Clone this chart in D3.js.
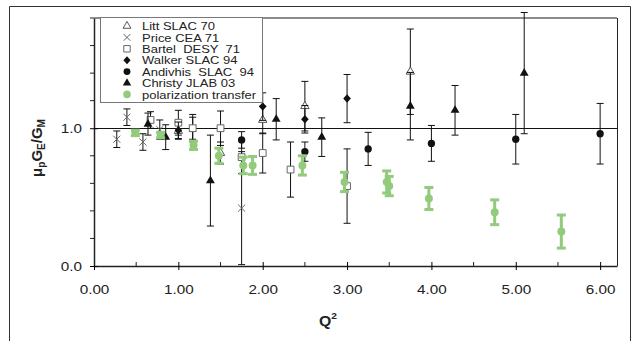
<!DOCTYPE html>
<html>
<head>
<meta charset="utf-8">
<script src="https://cdn.jsdelivr.net/npm/d3@7"></script>
<style>
  body { margin: 0; background: #fff; }
  text { font-family: "Liberation Sans", Arial, sans-serif; fill: #222; }
</style>
</head>
<body>
<div id="chart"></div>
<script>
// data: Q², mu_p GE/GM, error
const littQ2 = [1.0, 1.5, 2.0, 2.5, 3.75];
const littR = [0.98, 0.82, 1.06, 1.16, 1.41];
const littErr = [0.06, 0.08, 0.10, 0.18, 0.31];

const priceQ2 = [0.27, 0.39, 0.58, 0.78, 1.17, 1.75];
const priceR = [0.92, 1.08, 0.90, 0.99, 1.00, 0.42];
const priceErr = [0.06, 0.06, 0.06, 0.07, 0.08, 0.41];

const bartelQ2 = [0.67, 1.0, 1.17, 1.5, 1.75, 2.0, 2.33, 3.0];
const bartelR = [1.06, 1.04, 1.00, 1.00, 0.79, 0.82, 0.70, 0.58];
const bartelErr = [0.06, 0.09, 0.10, 0.125, 0.12, 0.145, 0.20, 0.27];

const walkerQ2 = [1.0, 2.0, 2.5, 3.0];
const walkerR = [0.985, 1.157, 1.065, 1.215];
const walkerErr = [0.06, 0.10, 0.10, 0.175];

const andivQ2 = [1.75, 2.5, 3.25, 4.0, 5.0, 6.0];
const andivR = [0.915, 0.83, 0.85, 0.89, 0.92, 0.96];
const andivErr = [0.06, 0.07, 0.12, 0.13, 0.18, 0.22];

const christyQ2 = [0.64, 0.85, 1.38, 2.16, 2.7, 3.75, 4.28, 5.1];
const christyR = [1.03, 0.935, 0.62, 1.065, 0.935, 1.16, 1.13, 1.40];
const christyErr = [0.08, 0.09, 0.33, 0.15, 0.14, 0.245, 0.18, 0.44];

const polQ2 = [0.49, 0.79, 1.18, 1.48, 1.77, 1.88, 2.47, 2.97, 3.47, 3.50, 3.97, 4.75, 5.54];
const polR = [0.966, 0.95, 0.876, 0.80, 0.73, 0.73, 0.73, 0.61, 0.61, 0.58, 0.49, 0.39, 0.25];
const polErr = [0.02, 0.02, 0.03, 0.055, 0.06, 0.065, 0.07, 0.07, 0.08, 0.07, 0.08, 0.09, 0.12];

const xMajor = [0, 1, 2, 3, 4, 5, 6];
const xMinor = [0.5, 1.5, 2.5, 3.5, 4.5, 5.5];
const yMajor = [0, 1];
const yMinor = [0.2, 0.4, 0.6, 0.8, 1.2, 1.4, 1.6, 1.8];

const width = 635;
const height = 341;
const plot = { left: 94, right: 617, top: 18, bottom: 266 };
const stretch = 1.13; // the original lettering is a bit wider than it is tall

const x = d3.scaleLinear([0, 6.2], [plot.left, plot.right]);
const y = d3.scaleLinear([0, 1.8], [plot.bottom, plot.top]);

const svg = d3.select('#chart')
  .append('svg')
  .attr('width', width)
  .attr('height', height);

// outer frame
svg.append('path')
  .attr('d', `M9.5,${height} V6.5 H630.5 V${height}`)
  .attr('fill', 'none')
  .attr('stroke', '#333');

// plot frame: grey top, black right
svg.append('line')
  .attr('x1', plot.left).attr('x2', plot.right)
  .attr('y1', plot.top).attr('y2', plot.top)
  .attr('stroke', '#8c8c8c').attr('stroke-width', 2);
svg.append('line')
  .attr('x1', plot.right + 0.5).attr('x2', plot.right + 0.5)
  .attr('y1', plot.top).attr('y2', plot.bottom)
  .attr('stroke', '#222');

// reference line at 1
svg.append('line')
  .attr('x1', plot.left).attr('x2', plot.right)
  .attr('y1', Math.round(y(1)) + 0.5).attr('y2', Math.round(y(1)) + 0.5)
  .attr('stroke', '#111');

// x axis
const xAxis = svg.append('g')
  .attr('transform', `translate(0,${plot.bottom})`)
  .call(d3.axisBottom(x).tickValues(xMajor).tickFormat(d3.format('.2f')).tickSizeOuter(0).tickPadding(12));
xAxis.selectAll('.tick line').attr('y1', -4).attr('y2', 4);
xAxis.append('g')
  .selectAll('line')
  .data(xMinor)
  .join('line')
  .attr('x1', (d) => x(d)).attr('x2', (d) => x(d))
  .attr('y1', 0).attr('y2', -4)
  .attr('stroke', '#222');

// y axis
const yAxis = svg.append('g')
  .attr('transform', `translate(${plot.left},0)`)
  .call(d3.axisLeft(y).tickValues(yMajor).tickFormat(d3.format('.1f')).tickSizeOuter(0).tickPadding(6));
yAxis.selectAll('.tick line').attr('x1', -4).attr('x2', 4);
yAxis.selectAll('.tick text').attr('x', -12 / stretch);
yAxis.append('g')
  .selectAll('line')
  .data(yMinor)
  .join('line')
  .attr('y1', (d) => y(d)).attr('y2', (d) => y(d))
  .attr('x1', 0).attr('x2', -4)
  .attr('stroke', '#222');

svg.selectAll('.domain').attr('stroke', '#222').attr('stroke-width', 1.5);
svg.selectAll('.tick text')
  .attr('font-size', '13.5px')
  .attr('fill', '#222')
  .attr('transform', `scale(${stretch},1)`);

// axis titles
const yTitle = svg.append('text')
  .attr('transform', 'translate(42,148) rotate(-90)')
  .attr('text-anchor', 'middle')
  .attr('font-size', '15px')
  .attr('font-weight', 'bold');
yTitle.append('tspan').text('μ');
yTitle.append('tspan').attr('font-size', '10px').attr('dy', 3).text('p');
yTitle.append('tspan').attr('dy', -3).text('G');
yTitle.append('tspan').attr('font-size', '10px').attr('dy', 3).text('E');
yTitle.append('tspan').attr('dy', -3).text('/G');
yTitle.append('tspan').attr('font-size', '10px').attr('dy', 3).text('M');

const xTitle = svg.append('text')
  .attr('transform', `translate(328,326) scale(${stretch},1)`)
  .attr('text-anchor', 'middle')
  .attr('font-size', '14px')
  .attr('font-weight', 'bold');
xTitle.append('tspan').text('Q');
xTitle.append('tspan').attr('font-size', '9px').attr('dy', -7).text('2');

// custom symbol shapes
const xMark = {
  draw(ctx, size) {
    const r = Math.sqrt(size) / 2;
    ctx.moveTo(-r, -r); ctx.lineTo(r, r);
    ctx.moveTo(r, -r); ctx.lineTo(-r, r);
  }
};
const diamond = {
  draw(ctx, size) {
    const r = Math.sqrt(size) / 2;
    ctx.moveTo(0, -r); ctx.lineTo(r * 0.9, 0); ctx.lineTo(0, r); ctx.lineTo(-r * 0.9, 0); ctx.closePath();
  }
};

const green = '#93cb7d';

const series = [
  { name: 'Litt SLAC 70', q: littQ2, r: littR, e: littErr, type: d3.symbolTriangle, size: 30, fill: '#fff', stroke: '#555' },
  { name: 'Price CEA 71', q: priceQ2, r: priceR, e: priceErr, type: xMark, size: 50, fill: 'none', stroke: '#666' },
  { name: 'Bartel  DESY  71', q: bartelQ2, r: bartelR, e: bartelErr, type: d3.symbolSquare, size: 46, fill: '#fff', stroke: '#666' },
  { name: 'Walker SLAC 94', q: walkerQ2, r: walkerR, e: walkerErr, type: diamond, size: 72, fill: '#111', stroke: 'none' },
  { name: 'Andivhis  SLAC  94', q: andivQ2, r: andivR, e: andivErr, type: d3.symbolCircle, size: 42, fill: '#111', stroke: 'none' },
  { name: 'Christy JLAB 03', q: christyQ2, r: christyR, e: christyErr, type: d3.symbolTriangle, size: 34, fill: '#111', stroke: 'none' },
  { name: 'polarization transfer', q: polQ2, r: polR, e: polErr, type: d3.symbolCircle, size: 50, fill: green, stroke: 'none', green: true },
];

const symbol = (s, k = 1) => d3.symbol().type(s.type).size(s.size * k)();

series.forEach((s) => {
  const pts = s.q.map((q, i) => ({ q, r: s.r[i], e: s.e[i] }));
  const col = s.green ? green : '#111';
  const sw = s.green ? 3 : 1;
  const cap = s.green ? 4.5 : 3.5;
  const g = svg.append('g');
  const bars = g.selectAll('g.bar')
    .data(pts)
    .join('g')
    .attr('class', 'bar')
    .attr('stroke', col)
    .attr('stroke-width', sw);
  bars.append('line')
    .attr('x1', (d) => x(d.q)).attr('x2', (d) => x(d.q))
    .attr('y1', (d) => y(d.r + d.e)).attr('y2', (d) => y(d.r - d.e));
  bars.append('line')
    .attr('x1', (d) => x(d.q) - cap).attr('x2', (d) => x(d.q) + cap)
    .attr('y1', (d) => y(d.r + d.e)).attr('y2', (d) => y(d.r + d.e));
  bars.append('line')
    .attr('x1', (d) => x(d.q) - cap).attr('x2', (d) => x(d.q) + cap)
    .attr('y1', (d) => y(d.r - d.e)).attr('y2', (d) => y(d.r - d.e));
  g.selectAll('path')
    .data(pts)
    .join('path')
    .attr('transform', (d) => `translate(${x(d.q)},${y(d.r)})`)
    .attr('d', symbol(s))
    .attr('fill', s.fill)
    .attr('stroke', s.stroke)
    .attr('stroke-width', 1);
});

// legend
const legend = svg.append('g').attr('transform', 'translate(100,17)');
legend.append('rect')
  .attr('x', 0.5).attr('y', 0.5)
  .attr('width', 162).attr('height', 85)
  .attr('fill', '#fff')
  .attr('stroke', '#777');
const rows = legend.selectAll('g.row')
  .data(series)
  .join('g')
  .attr('class', 'row')
  .attr('transform', (d, i) => `translate(0,${9 + i * 11.4})`);
rows.append('path')
  .attr('transform', 'translate(27,0)')
  .attr('d', (d) => symbol(d, 0.9))
  .attr('fill', (d) => d.fill)
  .attr('stroke', (d) => d.stroke);
rows.append('text')
  .attr('transform', `translate(42,4.2) scale(${stretch},1)`)
  .attr('font-size', '11.5px')
  .style('white-space', 'pre')
  .text((d) => d.name);
</script>
</body>
</html>
